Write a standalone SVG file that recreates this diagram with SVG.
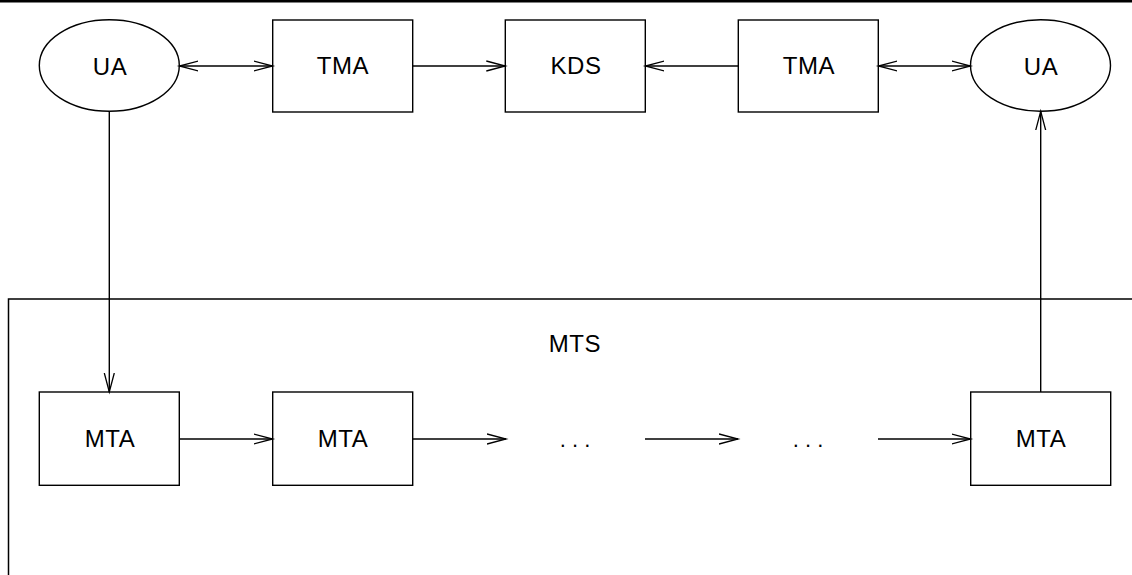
<svg xmlns="http://www.w3.org/2000/svg" width="1132" height="575" viewBox="0 0 1132 575">
  <style>
    .shape { fill: #fff; stroke: #000; stroke-width: 1.4; }
    .lbl { font-family: "Liberation Sans", Arial, sans-serif; font-size: 24px; letter-spacing: 0.6px; fill: #000; text-anchor: middle; }
    .dots { font-family: "Liberation Sans", Arial, sans-serif; font-size: 22px; fill: #000; text-anchor: middle; }
    .conn { fill: none; stroke: #000; stroke-width: 1.4; }
  </style>
  <defs>
    <marker id="arr" markerUnits="userSpaceOnUse" markerWidth="22" markerHeight="14" refX="19" refY="6" orient="auto-start-reverse">
      <path d="M0,1 L19,6 L0,11" fill="none" stroke="#000" stroke-width="1.3"/>
    </marker>
  </defs>
  <rect width="1132" height="575" fill="#fff"/>

  <!-- top rule -->
  <line x1="0" y1="1.3" x2="1132" y2="1.3" stroke="#000" stroke-width="2.6"/>

  <!-- MTS boundary (open to the right and bottom) -->
  <g id="mts">
    <path d="M8.5,575 V299 H1132" fill="none" stroke="#000" stroke-width="1.5"/>
    <text class="lbl" x="575" y="352">MTS</text>
  </g>

  <g id="ua-left">
    <ellipse class="shape" cx="109.3" cy="65.5" rx="70" ry="45.8"/>
    <text class="lbl" x="110" y="75">UA</text>
  </g>
  <g id="tma-left">
    <rect class="shape" x="272.7" y="20" width="140" height="92"/>
    <text class="lbl" x="343" y="74">TMA</text>
  </g>
  <g id="kds">
    <rect class="shape" x="505.3" y="20" width="140" height="92"/>
    <text class="lbl" x="576" y="74">KDS</text>
  </g>
  <g id="tma-right">
    <rect class="shape" x="738.3" y="20" width="140" height="92"/>
    <text class="lbl" x="809" y="74">TMA</text>
  </g>
  <g id="ua-right">
    <ellipse class="shape" cx="1040.5" cy="65.5" rx="70" ry="45.8"/>
    <text class="lbl" x="1041" y="75">UA</text>
  </g>

  <g id="mta-1">
    <rect class="shape" x="39.3" y="392" width="140" height="93.3"/>
    <text class="lbl" x="110" y="447">MTA</text>
  </g>
  <g id="mta-2">
    <rect class="shape" x="272.7" y="392" width="140" height="93.3"/>
    <text class="lbl" x="343" y="447">MTA</text>
  </g>
  <g id="gap-1">
    <text class="dots" x="575" y="447">. . .</text>
  </g>
  <g id="gap-2">
    <text class="dots" x="808" y="447">. . .</text>
  </g>
  <g id="mta-3">
    <rect class="shape" x="970.7" y="392" width="140" height="93.3"/>
    <text class="lbl" x="1041" y="447">MTA</text>
  </g>

  <g id="connectors">
    <line class="conn" x1="179.3" y1="66" x2="272.7" y2="66" marker-start="url(#arr)" marker-end="url(#arr)"/>
    <line class="conn" x1="412.7" y1="66" x2="505.3" y2="66" marker-end="url(#arr)"/>
    <line class="conn" x1="738.3" y1="66" x2="645.3" y2="66" marker-end="url(#arr)"/>
    <line class="conn" x1="878.3" y1="66" x2="970.5" y2="66" marker-start="url(#arr)" marker-end="url(#arr)"/>
    <line class="conn" x1="109.3" y1="111.3" x2="109.3" y2="392" marker-end="url(#arr)"/>
    <line class="conn" x1="1040.7" y1="392" x2="1040.7" y2="111.3" marker-end="url(#arr)"/>
    <line class="conn" x1="179.3" y1="439" x2="272.7" y2="439" marker-end="url(#arr)"/>
    <line class="conn" x1="412.7" y1="439" x2="506" y2="439" marker-end="url(#arr)"/>
    <line class="conn" x1="645" y1="439" x2="738" y2="439" marker-end="url(#arr)"/>
    <line class="conn" x1="878" y1="439" x2="970.7" y2="439" marker-end="url(#arr)"/>
  </g>
</svg>
